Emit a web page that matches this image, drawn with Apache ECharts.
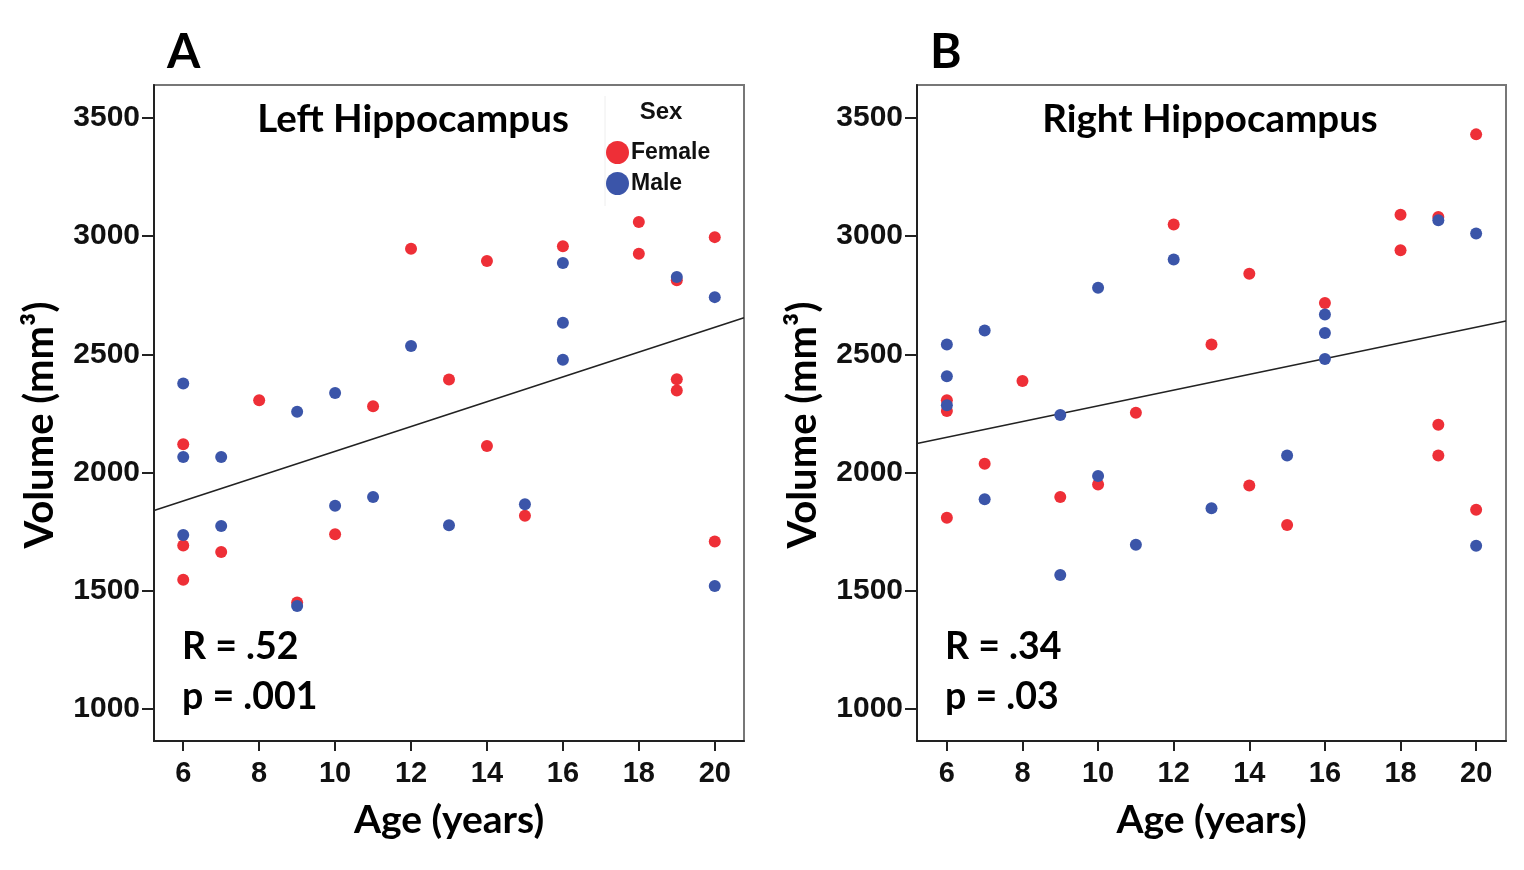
<!DOCTYPE html>
<html>
<head>
<meta charset="utf-8">
<script src="https://cdn.jsdelivr.net/npm/echarts@6/dist/echarts.min.js"></script>
<style>
html,body{margin:0;padding:0;background:#fff;}
#chart{width:1524px;height:870px;}
</style>
</head>
<body>
<div id="chart"></div>
<script>
// ---- Data ----
const xTicks = [6, 8, 10, 12, 14, 16, 18, 20];
const yTicks = [1000, 1500, 2000, 2500, 3000, 3500];

// Left hippocampus [age, volume mm3]
const leftFemale = [
  [6, 2119], [6, 1691], [6, 1546], [7, 1663], [8, 2305], [9, 1449], [10, 1738],
  [11, 2280], [12, 2947], [13, 2393], [14, 2895], [14, 2112], [15, 1817],
  [16, 2957], [18, 3060], [18, 2926], [19, 2813], [19, 2394], [19, 2347],
  [20, 2996], [20, 1708]
];
const leftMale = [
  [6, 2376], [6, 2065], [6, 1735], [7, 2065], [7, 1773], [9, 2257], [9, 1434],
  [10, 2336], [10, 1859], [11, 1896], [12, 2535], [13, 1776], [15, 1865],
  [16, 2886], [16, 2634], [16, 2477], [19, 2827], [20, 2742], [20, 1519]
];
const leftFit = [[5.23, 1839], [20.77, 2655]];

// Right hippocampus [age, volume mm3]
const rightFemale = [
  [6, 2305], [6, 2260], [6, 1808], [7, 2037], [8, 2387], [9, 1896], [10, 1949],
  [11, 2253], [12, 3049], [13, 2541], [14, 2841], [14, 1945], [15, 1777],
  [16, 2717], [18, 3091], [18, 2940], [19, 3081], [19, 2202], [19, 2072],
  [20, 3431], [20, 1842]
];
const rightMale = [
  [6, 2541], [6, 2407], [6, 2284], [7, 2601], [7, 1886], [9, 2243], [9, 1566],
  [10, 2782], [10, 1985], [11, 1694], [12, 2901], [13, 1848], [15, 2072],
  [16, 2668], [16, 2590], [16, 2480], [19, 3067], [20, 3011], [20, 1690]
];
const rightFit = [[5.21, 2122], [20.79, 2641]];

const panelTitles = ['Left Hippocampus', 'Right Hippocampus'];
const panelLetters = ['A', 'B'];
const statsR = ['R = .52', 'R = .34'];
const statsP = ['p = .001', 'p = .03'];

// ---- Styles ----
const RED = '#ee2f37';
const BLUE = '#3b55a9';
const TICK_FONT = '"Liberation Sans", Arial, sans-serif';
const TITLE_FONT = 'Lato, "Open Sans", sans-serif';

const grids = [
  {left: 154, top: 85, width: 590, height: 656},
  {left: 917, top: 85, width: 589, height: 656}
];
const xRanges = [[5.23, 20.77], [5.21, 20.79]];

function xAxis(i) {
  return {
    type: 'value', gridIndex: i, min: xRanges[i][0], max: xRanges[i][1],
    name: 'Age (years)', nameLocation: 'middle', nameGap: 60,
    nameTextStyle: {fontFamily: TITLE_FONT, fontWeight: 'bold', fontSize: 39, color: '#000'},
    axisLine: {show: true, onZero: false, lineStyle: {color: '#222', width: 2}},
    axisTick: {show: true, length: 10, inside: false, customValues: xTicks, lineStyle: {color: '#222', width: 2}},
    axisLabel: {customValues: xTicks, margin: 18, fontFamily: TICK_FONT, fontWeight: 'bold', fontSize: 29, color: '#111',
      formatter: v => String(Math.round(v))},
    splitLine: {show: false}
  };
}
function yAxis(i) {
  return {
    type: 'value', gridIndex: i, min: 863, max: 3640,
    name: 'Volume (mm³)', nameLocation: 'middle', nameGap: 94, nameRotate: 90,
    nameTextStyle: {fontFamily: TITLE_FONT, fontWeight: 'bold', fontSize: 40, color: '#000', padding: [0, 24, 0, 0]},
    axisLine: {show: true, onZero: false, lineStyle: {color: '#222', width: 2}},
    axisTick: {show: true, length: 12, customValues: yTicks, lineStyle: {color: '#222', width: 2}},
    axisLabel: {customValues: yTicks, margin: 14, fontFamily: TICK_FONT, fontWeight: 'bold', fontSize: 30, color: '#111',
      formatter: v => String(Math.round(v))},
    splitLine: {show: false}
  };
}
function scatter(name, data, color, i) {
  return {
    type: 'scatter', name: name, data: data, xAxisIndex: i, yAxisIndex: i,
    symbol: 'circle', symbolSize: 12, itemStyle: {color: color, opacity: 1},
    emphasis: {disabled: true}
  };
}
function fit(data, i) {
  return {
    type: 'line', data: data, xAxisIndex: i, yAxisIndex: i, symbol: 'none',
    lineStyle: {color: '#222', width: 1.6}, silent: true, z: 1
  };
}

const graphics = [];
for (let i = 0; i < 2; i++) {
  const g = grids[i];
  graphics.push({type: 'text', left: g.left + 13, top: 29, style: {text: panelLetters[i], font: 'bold 48px ' + TITLE_FONT, fill: '#000'}});
  graphics.push({type: 'text', x: g.left + (i === 0 ? 259 : 293), y: 120, style: {text: panelTitles[i], font: 'bold 38.5px ' + TITLE_FONT, fill: '#000', align: 'center', verticalAlign: 'middle'}});
  graphics.push({type: 'text', x: g.left + 28, y: 647, style: {text: statsR[i], font: 'bold 37.5px ' + TITLE_FONT, fill: '#000', verticalAlign: 'middle'}});
  graphics.push({type: 'text', x: g.left + 28, y: 697, style: {text: statsP[i], font: 'bold 37.5px ' + TITLE_FONT, fill: '#000', verticalAlign: 'middle'}});
}
graphics.push({type: 'text', x: 661, y: 112, style: {text: 'Sex', font: 'bold 24px ' + TICK_FONT, fill: '#111', align: 'center', verticalAlign: 'middle'}});
graphics.push({type: 'line', shape: {x1: 605, y1: 96, x2: 605, y2: 206}, style: {stroke: '#eeeeee', lineWidth: 1}});

const option = {
  backgroundColor: '#fff',
  animation: false,
  grid: grids.map(g => Object.assign({show: true, borderColor: '#777', borderWidth: 2, backgroundColor: '#fff'}, g)),
  xAxis: [xAxis(0), xAxis(1)],
  yAxis: [yAxis(0), yAxis(1)],
  legend: {
    data: ['Female', 'Male'], orient: 'vertical', left: 606, top: 141,
    icon: 'circle', itemWidth: 23, itemHeight: 23, itemGap: 8, padding: 0,
    selectedMode: false,
    textStyle: {fontFamily: TICK_FONT, fontWeight: 'bold', fontSize: 23, color: '#111', padding: [0, 0, 0, -3]}
  },
  graphic: graphics,
  series: [
    fit(leftFit, 0),
    scatter('Female', leftFemale, RED, 0),
    scatter('Male', leftMale, BLUE, 0),
    fit(rightFit, 1),
    scatter('Female', rightFemale, RED, 1),
    scatter('Male', rightMale, BLUE, 1)
  ]
};
const chart = echarts.init(document.getElementById('chart'));
chart.setOption(option);
</script>
</body>
</html>
